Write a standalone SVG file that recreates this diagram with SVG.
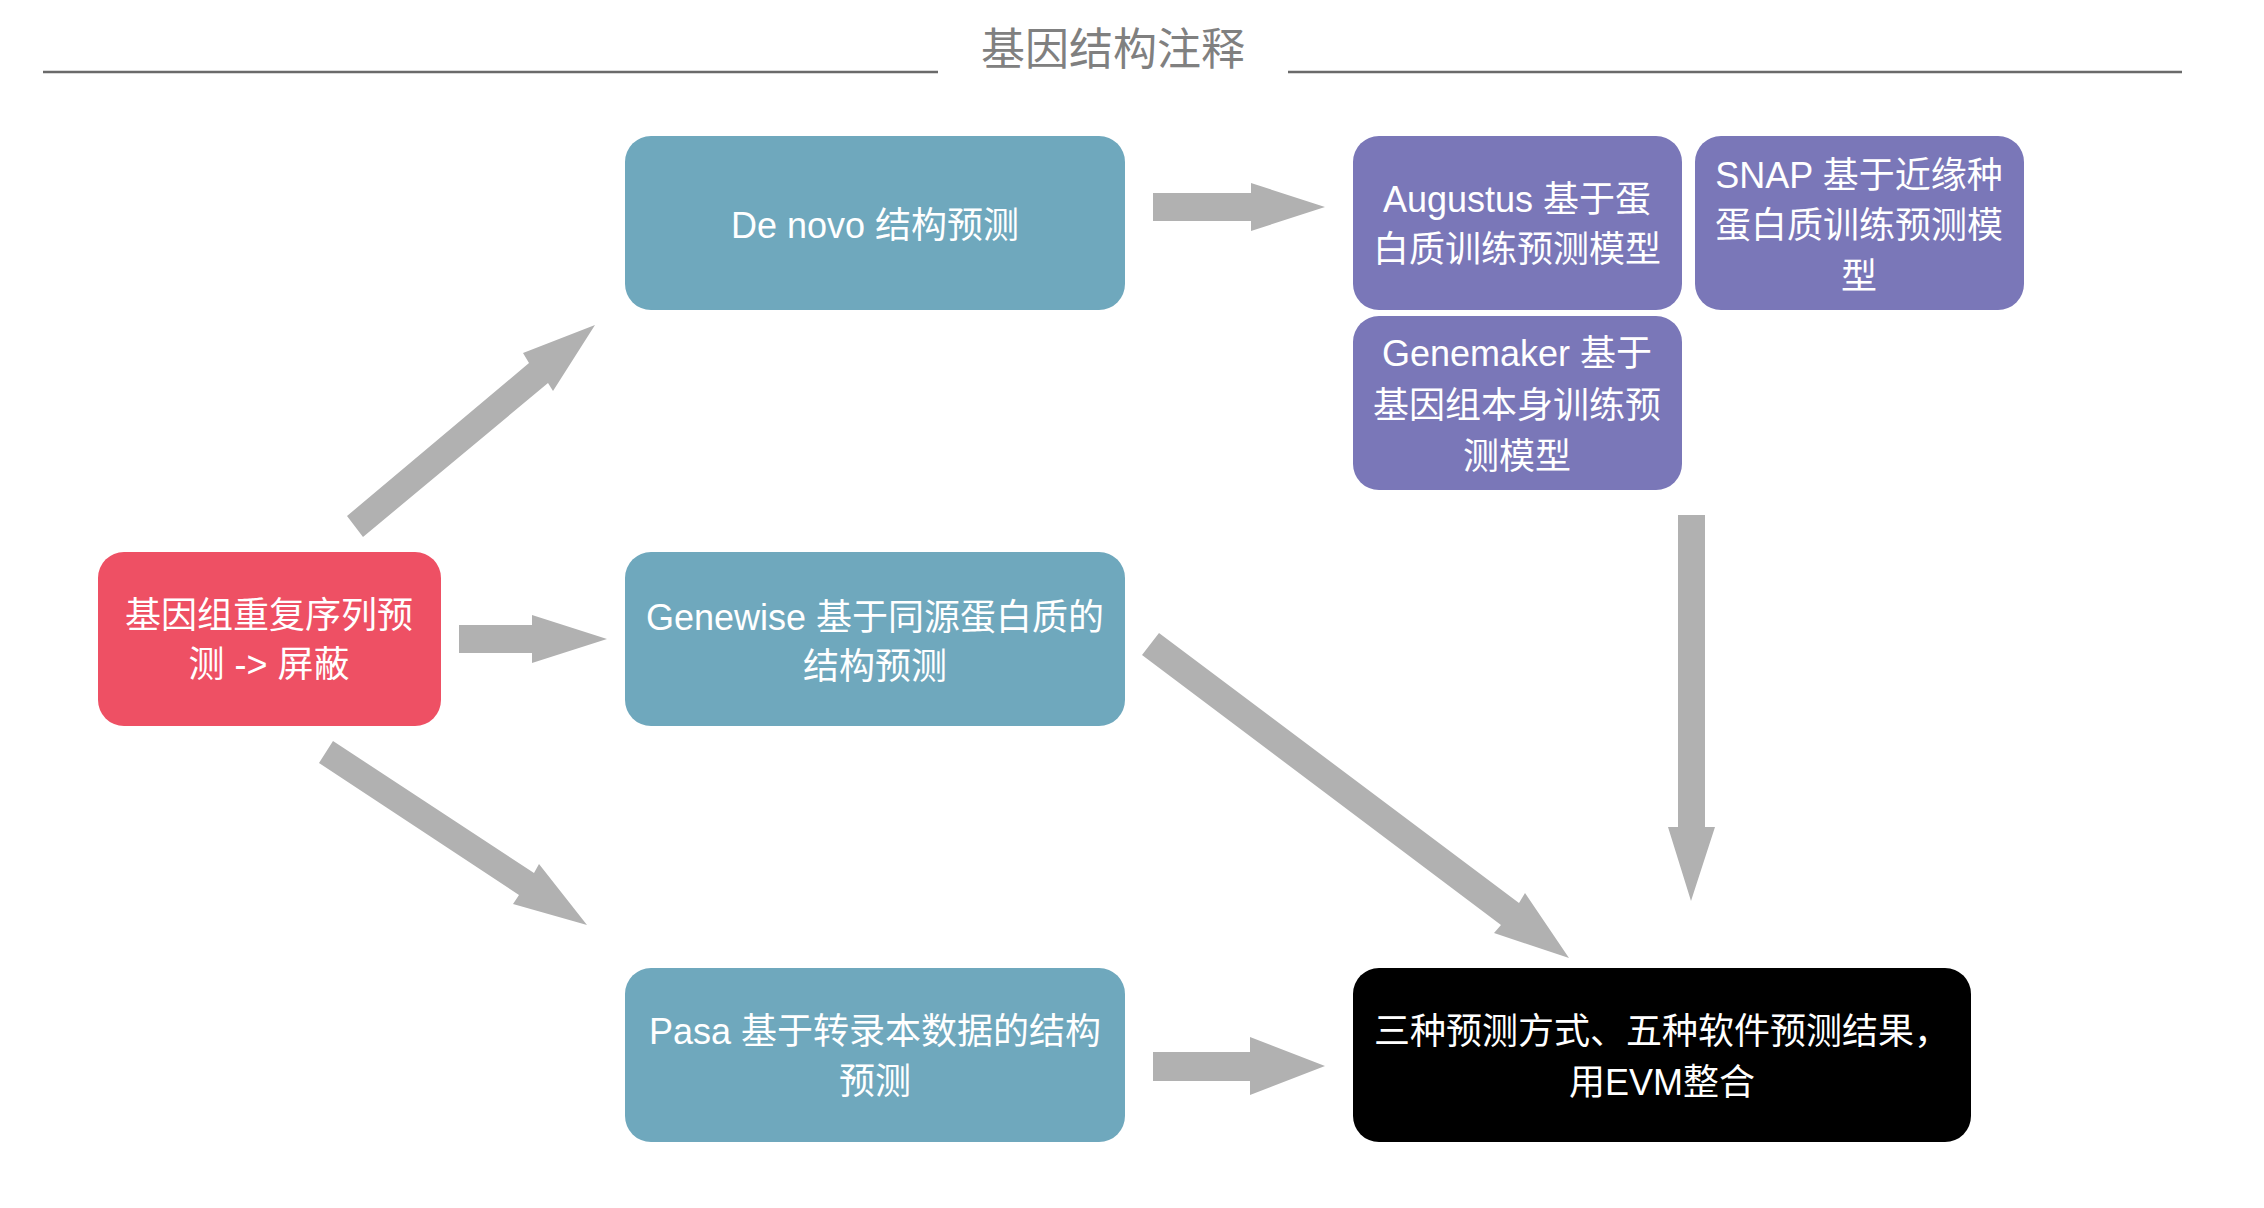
<svg xmlns="http://www.w3.org/2000/svg" width="2264" height="1208" viewBox="0 0 2264 1208">
<style>
  .t { font-family: "Liberation Sans", "Noto Sans CJK SC", sans-serif; font-size: 36px; fill: #ffffff; text-anchor: middle; }
  .title { font-family: "Noto Sans CJK SC", "Liberation Sans", sans-serif; font-size: 44px; fill: #808080; text-anchor: middle; }
  .teal { fill: #6fa8bd; }
  .purple { fill: #7a77b8; }
  .red { fill: #ee5064; }
  .black { fill: #000000; }
  .arrow { fill: #b1b1b1; }
  .rule { stroke: #6a6a6a; stroke-width: 2.5; }
</style>
<rect width="2264" height="1208" fill="#ffffff"/>
<g id="title">
  <line class="rule" x1="43" y1="72" x2="938" y2="72"/>
  <line class="rule" x1="1288" y1="72" x2="2182" y2="72"/>
  <text class="title" x="1113" y="65">基因结构注释</text>
</g>
<g id="connectors">
  <polygon class="arrow" points="1153,193 1251,193 1251,183 1325,207 1251,231 1251,221 1153,221"/>
  <polygon class="arrow" points="459,625 532,625 532,615 607,639 532,663 532,653 459,653"/>
  <polygon class="arrow" points="1153,1052 1250,1052 1250,1037 1325,1066 1250,1095 1250,1081 1153,1081"/>
  <polygon class="arrow" points="347,516 529,363 523,353 595,325 553,391 548,383 363,537"/>
  <polygon class="arrow" points="333,741 534,873 539,864 587,925 513,904 519,895 319,763"/>
  <polygon class="arrow" points="1159,633 1519,903 1525,893 1569,958 1494,933 1501,925 1142,655"/>
  <polygon class="arrow" points="1678,515 1705,515 1705,827 1715,827 1691,901 1668,827 1678,827"/>
</g>
<g id="denovo">
  <rect class="teal" x="625" y="136" width="500" height="174" rx="26"/>
  <text class="t" x="875" y="238">De novo 结构预测</text>
</g>
<g id="augustus">
  <rect class="purple" x="1353" y="136" width="329" height="174" rx="26"/>
  <text class="t" x="1517" y="212">Augustus 基于蛋</text>
  <text class="t" x="1517" y="262">白质训练预测模型</text>
</g>
<g id="snap">
  <rect class="purple" x="1695" y="136" width="329" height="174" rx="26"/>
  <text class="t" x="1859" y="188">SNAP 基于近缘种</text>
  <text class="t" x="1859" y="238">蛋白质训练预测模</text>
  <text class="t" x="1859" y="289">型</text>
</g>
<g id="genemaker">
  <rect class="purple" x="1353" y="316" width="329" height="174" rx="26"/>
  <text class="t" x="1517" y="366">Genemaker 基于</text>
  <text class="t" x="1517" y="418">基因组本身训练预</text>
  <text class="t" x="1517" y="469">测模型</text>
</g>
<g id="repeat">
  <rect class="red" x="98" y="552" width="343" height="174" rx="26"/>
  <text class="t" x="269" y="628">基因组重复序列预</text>
  <text class="t" x="269" y="677">测 -&gt; 屏蔽</text>
</g>
<g id="genewise">
  <rect class="teal" x="625" y="552" width="500" height="174" rx="26"/>
  <text class="t" x="875" y="630">Genewise 基于同源蛋白质的</text>
  <text class="t" x="875" y="679">结构预测</text>
</g>
<g id="pasa">
  <rect class="teal" x="625" y="968" width="500" height="174" rx="26"/>
  <text class="t" x="875" y="1044">Pasa 基于转录本数据的结构</text>
  <text class="t" x="875" y="1094">预测</text>
</g>
<g id="evm">
  <rect class="black" x="1353" y="968" width="618" height="174" rx="26"/>
  <text class="t" x="1662" y="1044">三种预测方式、五种软件预测结果，</text>
  <text class="t" x="1662" y="1095">用EVM整合</text>
</g>
</svg>
